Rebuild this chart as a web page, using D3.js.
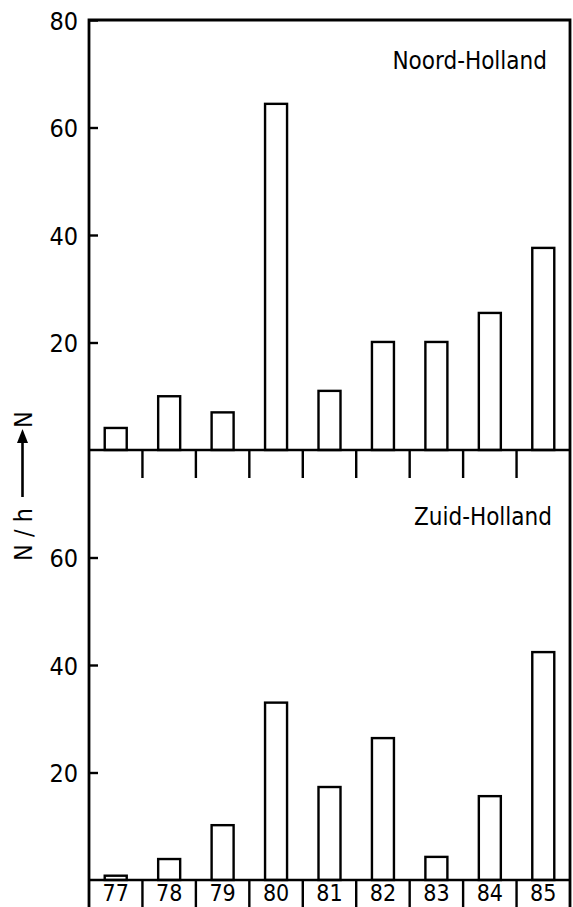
<!DOCTYPE html>
<html>
<head>
<meta charset="utf-8">
<script src="https://cdn.jsdelivr.net/npm/d3@7"></script>
<style>
  body { margin: 0; background: #fff; }
  text { font-family: "DejaVu Sans Condensed", "DejaVu Sans", sans-serif; fill: #000; }
</style>
</head>
<body>
<svg id="chart"></svg>
<script>
const W = 573
const H = 907

const years = ['77', '78', '79', '80', '81', '82', '83', '84', '85']
const noordHolland = [4.1, 10, 7, 64.4, 11, 20.1, 20.1, 25.5, 37.6]
const zuidHolland = [0.8, 3.9, 10.2, 33, 17.3, 26.4, 4.3, 15.6, 42.4]
const panelNames = ['Noord-Holland', 'Zuid-Holland']

const left = 89, right = 570
const top1 = 20, base1 = 450, base2 = 880

const svg = d3.select('#chart').attr('width', W).attr('height', H)

const x = d3.scaleBand().domain(years).range([left, right])
const barW = 22

const panels = [
  { name: panelNames[0], values: noordHolland, y: d3.scaleLinear().domain([0, 80]).range([base1, top1]), labels: [20, 40, 60, 80], nameY: 69, nameX: 547 },
  { name: panelNames[1], values: zuidHolland, y: d3.scaleLinear().domain([0, 80]).range([base2, base1]), labels: [20, 40, 60], nameY: 525, nameX: 552 }
]

panels.forEach(function(p) {
  const g = svg.append('g')

  // bars
  g.selectAll('rect.bar')
    .data(p.values)
    .join('rect')
    .attr('class', 'bar')
    .attr('x', (d, i) => x(years[i]) + (x.bandwidth() - barW) / 2)
    .attr('y', d => p.y(d))
    .attr('width', barW)
    .attr('height', d => p.y(0) - p.y(d))
    .attr('fill', 'none')
    .attr('stroke', '#000')
    .attr('stroke-width', 2.4)

  // y axis: ticks point inside, labels outside
  const axis = d3.axisLeft(p.y).tickValues(p.labels).tickSize(-9).tickPadding(11)
  const ag = g.append('g').attr('transform', 'translate(' + left + ',0)').call(axis)
  ag.select('.domain').remove()
  ag.selectAll('.tick line').attr('stroke', '#000').attr('stroke-width', 2.4)
  ag.selectAll('.tick text')
    .attr('font-size', 25)
    .attr('dy', '0.36em')
    .style('font-family', '"DejaVu Sans Condensed", "DejaVu Sans", sans-serif')

  // baseline
  g.append('line')
    .attr('x1', left).attr('x2', right)
    .attr('y1', p.y(0)).attr('y2', p.y(0))
    .attr('stroke', '#000').attr('stroke-width', 2.6)

  // region name
  g.append('text')
    .attr('x', p.nameX).attr('y', p.nameY)
    .attr('text-anchor', 'end')
    .attr('font-size', 24)
    .text(p.name)
})

// separators under the top baseline
svg.selectAll('line.sep1')
  .data(years.slice(1))
  .join('line')
  .attr('class', 'sep1')
  .attr('x1', d => x(d)).attr('x2', d => x(d))
  .attr('y1', base1).attr('y2', base1 + 28)
  .attr('stroke', '#000').attr('stroke-width', 2.4)

// category boxes under the bottom baseline
svg.selectAll('line.sep2')
  .data(years.slice(1))
  .join('line')
  .attr('class', 'sep2')
  .attr('x1', d => x(d)).attr('x2', d => x(d))
  .attr('y1', base2).attr('y2', H)
  .attr('stroke', '#000').attr('stroke-width', 2.4)

svg.selectAll('text.year')
  .data(years)
  .join('text')
  .attr('class', 'year')
  .attr('x', d => x(d) + x.bandwidth() / 2)
  .attr('y', 901)
  .attr('text-anchor', 'middle')
  .attr('font-size', 23)
  .text(d => d)

// frame: left axis, top, right
svg.append('path')
  .attr('d', 'M' + left + ',' + H + 'V' + top1 + 'H' + right + 'V' + H)
  .attr('fill', 'none')
  .attr('stroke', '#000')
  .attr('stroke-width', 2.8)

// y label  N / h ---> N
const yl = svg.append('g').attr('transform', 'translate(32,487) rotate(-90)')
yl.append('text').attr('x', -74).attr('y', 0).attr('font-size', 25).text('N / h')
yl.append('text').attr('x', 59).attr('y', 0).attr('font-size', 25).text('N')
yl.append('line')
  .attr('x1', -10).attr('x2', 46)
  .attr('y1', -9.5).attr('y2', -9.5)
  .attr('stroke', '#000').attr('stroke-width', 2.6)
yl.append('path')
  .attr('d', 'M58,-9.5 L44,-15 L44,-4 Z')
  .attr('fill', '#000')
</script>
</body>
</html>
